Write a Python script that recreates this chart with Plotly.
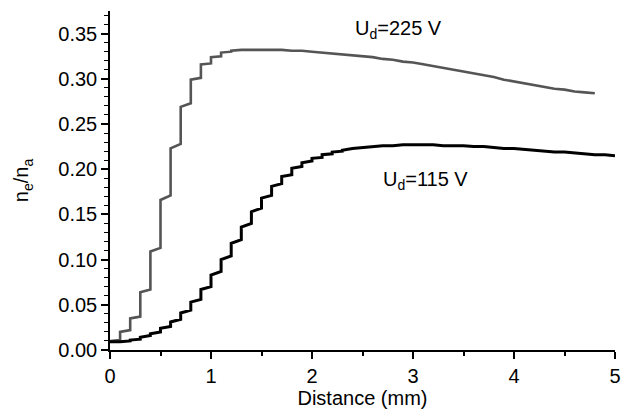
import plotly.graph_objects as go

STEP = 0.1  # mm, width of each staircase bin

# Staircase part: (left value, right value) of each 0.1 mm bin starting at 0
g225_step_left  = [0.010, 0.020, 0.035, 0.064, 0.109, 0.166, 0.223, 0.269, 0.299, 0.316, 0.324, 0.329]
g225_step_right = [0.011, 0.022, 0.037, 0.067, 0.113, 0.171, 0.228, 0.273, 0.301, 0.317, 0.325, 0.330]
# Smooth part, sampled every 0.1 mm from 1.2 to 4.8 mm
g225_smooth = [0.331, 0.332, 0.332, 0.332, 0.332, 0.332, 0.331, 0.331, 0.330, 0.329,
               0.328, 0.327, 0.326, 0.325, 0.324, 0.322, 0.321, 0.319, 0.318, 0.316,
               0.314, 0.312, 0.310, 0.308, 0.306, 0.304, 0.302, 0.299, 0.297, 0.295,
               0.293, 0.291, 0.289, 0.288, 0.286, 0.285, 0.284]

b115_step_left  = [0.009, 0.009, 0.011, 0.014, 0.018, 0.024, 0.031, 0.041, 0.053, 0.067,
                   0.083, 0.100, 0.118, 0.136, 0.153, 0.168, 0.181, 0.192, 0.201, 0.207,
                   0.212, 0.216, 0.219]
b115_step_right = [0.009, 0.010, 0.012, 0.016, 0.020, 0.026, 0.034, 0.044, 0.056, 0.070,
                   0.087, 0.104, 0.122, 0.140, 0.157, 0.171, 0.184, 0.194, 0.203, 0.209,
                   0.213, 0.217, 0.220]
# Smooth part, every 0.1 mm from 2.3 to 5.0 mm
b115_smooth = [0.221, 0.223, 0.224, 0.225, 0.226, 0.226, 0.227,
               0.227, 0.227, 0.227, 0.226, 0.226, 0.226, 0.225, 0.225, 0.224, 0.223,
               0.223, 0.222, 0.221, 0.220, 0.219, 0.219, 0.218, 0.217, 0.216, 0.216,
               0.215]

labels = ["U<sub>d</sub>=225 V", "U<sub>d</sub>=115 V"]
label_x = [2.86, 3.12]
label_y = [0.354, 0.188]


def build(left, right, smooth):
    xs, ys = [], []
    for i, (l, r) in enumerate(zip(left, right)):
        xs += [round(i * STEP, 2), round((i + 1) * STEP, 2)]
        ys += [l, r]
    start = len(left)
    for j, v in enumerate(smooth):
        xs.append(round((start + j) * STEP, 2))
        ys.append(v)
    return xs, ys


x225, y225 = build(g225_step_left, g225_step_right, g225_smooth)
x115, y115 = build(b115_step_left, b115_step_right, b115_smooth)

FONT = "Liberation Sans, Arial, Helvetica, sans-serif"
FS = 20

fig = go.Figure()
fig.add_trace(go.Scatter(x=x225, y=y225, mode="lines",
                         line=dict(color="#555555", width=2.6), showlegend=False))
fig.add_trace(go.Scatter(x=x115, y=y115, mode="lines",
                         line=dict(color="#000000", width=3), showlegend=False))

for t, x, y in zip(labels, label_x, label_y):
    fig.add_annotation(x=x, y=y, text=t, showarrow=False,
                       font=dict(size=FS, color="black", family=FONT))

fig.update_layout(
    width=626, height=416,
    margin=dict(l=110, r=5, t=11, b=66),
    paper_bgcolor="white", plot_bgcolor="white",
    font=dict(family=FONT, size=FS, color="black"),
    xaxis=dict(range=[0, 5], tickvals=[0, 1, 2, 3, 4, 5], showgrid=False, zeroline=False,
               showline=True, linecolor="black", linewidth=1.5,
               ticks="outside", ticklen=7, tickwidth=1.5, tickcolor="black",
               minor=dict(dtick=0.5, ticks="outside", ticklen=4, tickwidth=1.5, tickcolor="black"),
               title=dict(text="Distance (mm)", font=dict(size=FS), standoff=5),
               tickfont=dict(size=FS), ticklabeloverflow="allow"),
    yaxis=dict(range=[0, 0.375], tickvals=[0, 0.05, 0.1, 0.15, 0.2, 0.25, 0.3, 0.35],
               tickformat=".2f", showgrid=False, zeroline=False,
               showline=True, linecolor="black", linewidth=1.5,
               ticks="outside", ticklen=7, tickwidth=1.5, tickcolor="black",
               minor=dict(dtick=0.01, ticks="outside", ticklen=4, tickwidth=1.2, tickcolor="black"),
               title=dict(text="n<sub>e</sub>/n<sub>a</sub>", font=dict(size=FS), standoff=24),
               tickfont=dict(size=FS)),
)

fig.write_html("out.html")
